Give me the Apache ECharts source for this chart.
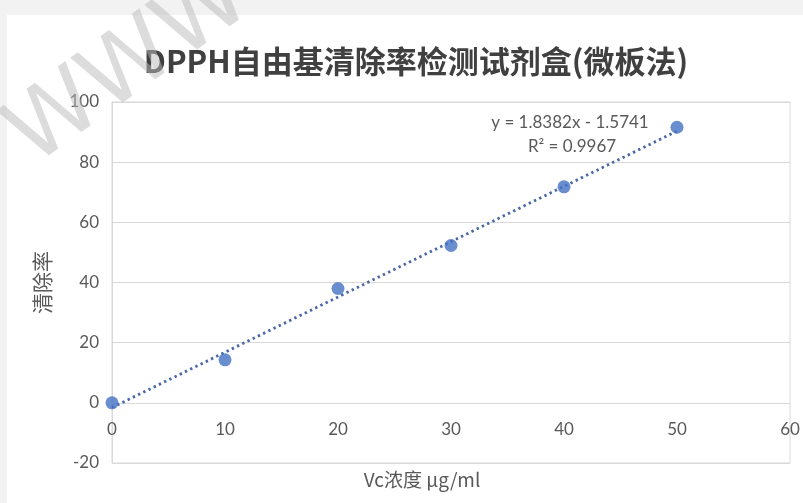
<!DOCTYPE html>
<html>
<head>
<meta charset="utf-8">
<script src="https://cdn.jsdelivr.net/npm/echarts@6/dist/echarts.min.js"></script>
<style>
  html, body { margin: 0; padding: 0; background: #f2f2f2; }
  #chart { width: 803px; height: 503px; }
</style>
</head>
<body>
<div id="chart"></div>
<script>
// ---- data ----
const titleText = 'DPPH自由基清除率检测试剂盒(微板法)';
const xAxisName = 'Vc浓度 μg/ml';
const yAxisName = '清除率';
const concentrations = [0, 10, 20, 30, 40, 50];
const scavengingRates = [0, 14.3, 38, 52.3, 71.8, 91.6];
const trendSlope = 1.8382;
const trendIntercept = -1.5741;
const rSquared = 0.9967;
const equationText = 'y = 1.8382x - 1.5741';
const r2Text = 'R² = 0.9967';
const watermarkText = 'WWW';

const latin = 'Lato, "Noto Sans CJK SC", sans-serif';
const cjk = '"Noto Sans CJK SC", Lato, sans-serif';

const pointData = concentrations.map((x, i) => [x, scavengingRates[i]]);
const xFirst = concentrations[0];
const xLast = concentrations[concentrations.length - 1];
const trendData = [xFirst, xLast].map(x => [x, trendSlope * x + trendIntercept]);

const chart = echarts.init(document.getElementById('chart'));
chart.setOption({
  backgroundColor: '#f2f2f2',
  animation: false,
  graphic: [
    { type: 'rect', left: 7, top: 15, z: -10, shape: { width: 796, height: 488 }, style: { fill: '#ffffff' } },
    { type: 'text', x: 130, y: 68, rotation: 0.62, z: 100,
      style: { text: watermarkText, fill: 'rgba(185,185,185,0.5)', font: '400 92px "DejaVu Sans"', textAlign: 'center', textVerticalAlign: 'middle' } },
    { type: 'text', x: 570, y: 123, z: 50,
      style: { text: equationText, fill: '#595959', font: '17px ' + latin, textAlign: 'center', textVerticalAlign: 'middle' } },
    { type: 'text', x: 572, y: 147, z: 50,
      style: { text: r2Text, fill: '#595959', font: '17px ' + latin, textAlign: 'center', textVerticalAlign: 'middle' } },
    { type: 'text', x: 422, y: 480, z: 50,
      style: { text: xAxisName, fill: '#595959', font: '19px ' + cjk, textAlign: 'center', textVerticalAlign: 'middle' } }
  ],
  title: {
    text: titleText,
    left: 411,
    textAlign: 'center',
    top: 41,
    textStyle: { fontFamily: cjk, fontSize: 31, fontWeight: 'bold', color: '#404040' }
  },
  grid: {
    left: 112, right: 13, top: 102, bottom: 40,
    show: true, borderColor: '#d9d9d9', borderWidth: 1, backgroundColor: 'transparent'
  },
  xAxis: {
    type: 'value', min: 0, max: 60, interval: 10,
    axisLine: { onZero: true, lineStyle: { color: '#d9d9d9', width: 1 } },
    axisTick: { show: false },
    splitLine: { show: false },
    axisLabel: { color: '#595959', fontSize: 17, fontFamily: latin, margin: 18 }
  },
  yAxis: {
    type: 'value', min: -20, max: 100, interval: 20,
    name: yAxisName, nameLocation: 'middle', nameRotate: 90, nameGap: 59,
    nameTextStyle: { color: '#595959', fontSize: 21, fontFamily: cjk },
    axisLine: { show: true, onZero: false, lineStyle: { color: '#d9d9d9', width: 1 } },
    axisTick: { show: false },
    splitLine: { show: true, lineStyle: { color: '#d9d9d9', width: 1 } },
    axisLabel: { color: '#595959', fontSize: 17, fontFamily: latin, margin: 13 }
  },
  series: [
    {
      type: 'line', data: trendData, showSymbol: false, symbol: 'none', z: 2,
      lineStyle: { color: '#4a68a6', width: 2.8, type: [2.4, 3.4] },
      silent: true
    },
    {
      type: 'scatter', data: pointData, symbol: 'circle', symbolSize: 13, z: 3,
      itemStyle: { color: '#4472c4' }
    }
  ]
});
// place the x axis (line + labels) on y = 0, as in the reference
const yZeroPx = chart.convertToPixel({ yAxisIndex: 0 }, 0);
const yMinPx = chart.convertToPixel({ yAxisIndex: 0 }, -20);
chart.setOption({ xAxis: { offset: -(yMinPx - yZeroPx) } });
</script>
</body>
</html>
